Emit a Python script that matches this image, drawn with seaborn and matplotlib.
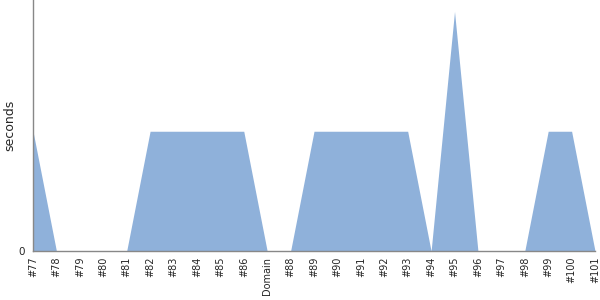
import matplotlib
matplotlib.use("Agg")
import matplotlib.pyplot as plt
import seaborn as sns
import pandas as pd

categories = ["#77", "#78", "#79", "#80", "#81", "#82", "#83", "#84", "#85", "#86",
              "Domain", "#88", "#89", "#90", "#91", "#92", "#93", "#94", "#95", "#96",
              "#97", "#98", "#99", "#100", "#101"]
seconds = [0.5, 0, 0, 0, 0, 0.5, 0.5, 0.5, 0.5, 0.5,
           0, 0, 0.5, 0.5, 0.5, 0.5, 0.5, 0, 1.0, 0,
           0, 0, 0.5, 0.5, 0]

df = pd.DataFrame({"cat": categories, "seconds": seconds, "x": range(len(categories))})

sns.set_style("white")
plt.rcParams["font.family"] = ["DejaVu Sans"]
fig = plt.figure(figsize=(6, 3), dpi=100)
ax = fig.add_axes([0.055, 0.1633, 0.9367, 0.8367])

sns.lineplot(data=df, x="x", y="seconds", ax=ax, color="#8fb1da", linewidth=0)
ax.fill_between(df["x"], df["seconds"], 0, color="#8fb1da", linewidth=0)

ax.set_xlim(0, len(categories) - 1)
ax.set_ylim(0, 1.048)
ax.set_xticks(df["x"])
ax.set_xticklabels(categories, rotation=90, fontsize=7)
ax.set_yticks([0])
ax.set_yticklabels(["0"], fontsize=7.5)
ax.set_xlabel("")
ax.set_ylabel("seconds", fontsize=9)
ax.yaxis.set_label_coords(-0.030, 0.5)
ax.tick_params(axis="x", length=0, pad=4)
ax.tick_params(axis="y", length=4, width=1, color="#888888", pad=2)
for s in ["top", "right"]:
    ax.spines[s].set_visible(False)
for s in ["left", "bottom"]:
    ax.spines[s].set_color("#888888")
    ax.spines[s].set_linewidth(1)

fig.savefig("out.png", dpi=100)
